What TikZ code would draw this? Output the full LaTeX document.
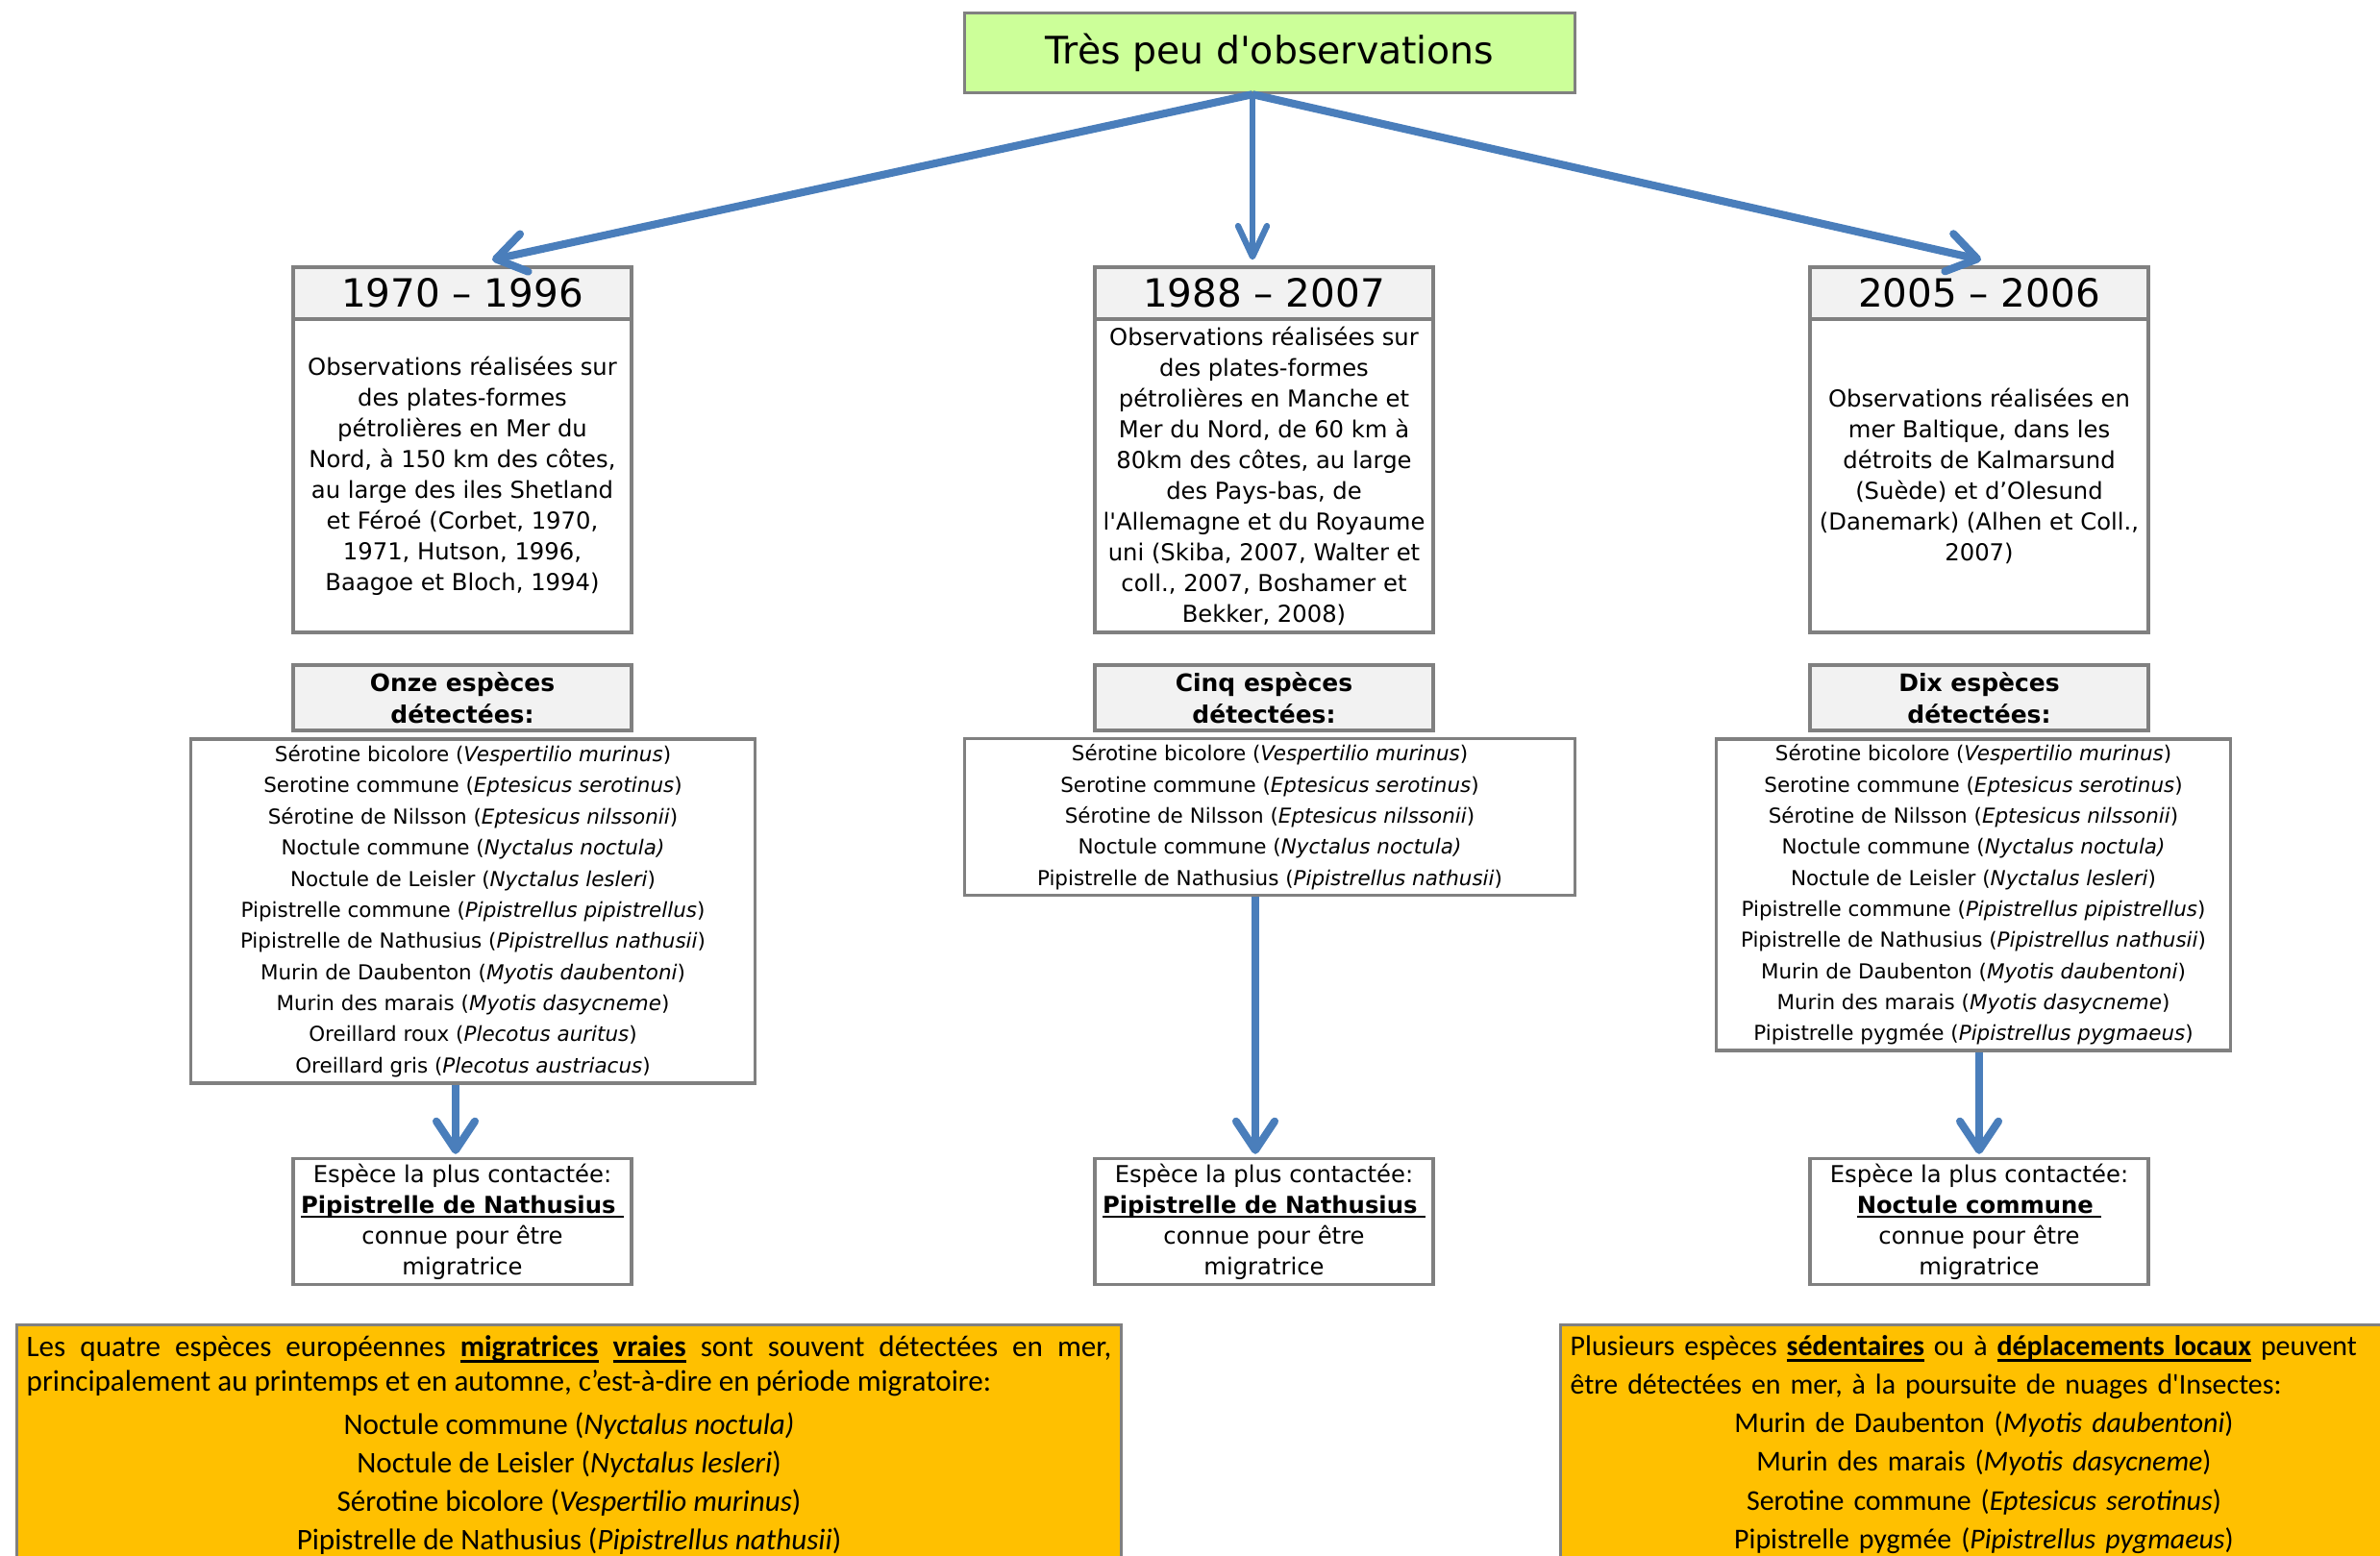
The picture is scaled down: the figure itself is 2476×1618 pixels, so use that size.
\documentclass[tikz,border=0pt]{standalone}
\usepackage{fontspec}
\setmainfont{DejaVu Sans}[Ligatures=TeXOff]
\newfontfamily\calib{Carlito}[Ligatures=TeXOff]
\usetikzlibrary{arrows.meta, positioning, calc}
\definecolor{BoxGray}{RGB}{128,128,128}
\definecolor{HeadGray}{RGB}{242,242,242}
\definecolor{TitleGreen}{RGB}{204,255,153}
\definecolor{ArrowBlue}{RGB}{74,126,187}
\definecolor{NoteOrange}{RGB}{255,192,0}
\newcommand{\thickul}[1]{\leavevmode\setbox0=\hbox{#1}\rlap{\rule[-0.2em]{\wd0}{0.09em}}\box0\relax}

\begin{document}
\begin{tikzpicture}[x=0.01cm,y=-0.01cm,
    box/.style={draw=BoxGray,line width=0.95pt,align=center,inner sep=0pt},
    yearbox/.style={box,fill=HeadGray,minimum width=3.52cm,minimum height=0.54cm,font=\fontsize{11.5}{13}\selectfont},
    descbox/.style={box,fill=white,minimum width=3.52cm,minimum height=3.26cm,font=\fontsize{6.9}{9.1}\selectfont},
    countbox/.style={box,fill=HeadGray,minimum width=3.52cm,minimum height=0.68cm,font=\fontsize{7.1}{9.3}\selectfont\bfseries},
    listbox/.style={box,fill=white,font=\fontsize{6.1}{9.2}\selectfont},
    bestbox/.style={box,fill=white,minimum width=3.52cm,minimum height=1.31cm,font=\fontsize{6.9}{9.1}\selectfont},
    notebox/.style={draw=BoxGray,line width=0.95pt,fill=NoteOrange,anchor=north west,inner xsep=0.1cm,inner ysep=0.11cm},
    flow/.style={draw=ArrowBlue,line width=2.3pt,-{Straight Barb[length=0.3cm,width=0.4cm,round]}}]
    \useasboundingbox (0,0) rectangle (2476,1618);
    \clip (0,0) rectangle (2476,1618);

    % titre
    \node[box,fill=TitleGreen,minimum width=6.35cm,minimum height=0.83cm,font=\fontsize{11.2}{13}\selectfont]
      (title) at (1321,55) {Très peu d'observations};
    \coordinate (hub) at ($(title.south)+(-18,0)$);

    % trois periodes
    \node[yearbox] (yr1) at (481,305) {1970 – 1996};
    \node[descbox] (desc1) at (481,495) {Observations réalisées sur\\des plates-formes\\pétrolières en Mer du\\Nord, à 150 km des côtes,\\au large des iles Shetland\\et Féroé (Corbet, 1970,\\1971, Hutson, 1996,\\Baagoe et Bloch, 1994)};
    \node[yearbox] (yr2) at (1315,305) {1988 – 2007};
    \node[descbox] (desc2) at (1315,495) {Observations réalisées sur\\des plates-formes\\pétrolières en Manche et\\Mer du Nord, de 60 km à\\80km des côtes, au large\\des Pays-bas, de\\l'Allemagne et du Royaume\\uni (Skiba, 2007, Walter et\\coll., 2007, Boshamer et\\Bekker, 2008)};
    \node[yearbox] (yr3) at (2059,305) {2005 – 2006};
    \node[descbox] (desc3) at (2059,495) {Observations réalisées en\\mer Baltique, dans les\\détroits de Kalmarsund\\(Suède) et d’Olesund\\(Danemark) (Alhen et Coll.,\\2007)};

    % especes detectees
    \node[countbox] (cnt1) at (481,726) {Onze espèces\\détectées:};
    \node[countbox] (cnt2) at (1315,726) {Cinq espèces\\détectées:};
    \node[countbox] (cnt3) at (2059,726) {Dix espèces\\détectées:};

    \node[listbox,minimum width=5.87cm,minimum height=3.58cm] (list1) at (492,948) {%
      Sérotine bicolore (\textit{Vespertilio murinus})\\
      Serotine commune (\textit{Eptesicus serotinus})\\
      Sérotine de Nilsson (\textit{Eptesicus nilssonii})\\
      Noctule commune (\textit{Nyctalus noctula)}\\
      Noctule de Leisler (\textit{Nyctalus lesleri})\\
      Pipistrelle commune (\textit{Pipistrellus pipistrellus})\\
      Pipistrelle de Nathusius (\textit{Pipistrellus nathusii})\\
      Murin de Daubenton (\textit{Myotis daubentoni})\\
      Murin des marais (\textit{Myotis dasycneme})\\
      Oreillard roux (\textit{Plecotus auritus})\\
      Oreillard gris (\textit{Plecotus austriacus})};
    \node[listbox,minimum width=6.35cm,minimum height=1.63cm] (list2) at (1321,850) {%
      Sérotine bicolore (\textit{Vespertilio murinus})\\
      Serotine commune (\textit{Eptesicus serotinus})\\
      Sérotine de Nilsson (\textit{Eptesicus nilssonii})\\
      Noctule commune (\textit{Nyctalus noctula)}\\
      Pipistrelle de Nathusius (\textit{Pipistrellus nathusii})};
    \node[listbox,minimum width=5.35cm,minimum height=3.24cm] (list3) at (2053,931) {%
      Sérotine bicolore (\textit{Vespertilio murinus})\\
      Serotine commune (\textit{Eptesicus serotinus})\\
      Sérotine de Nilsson (\textit{Eptesicus nilssonii})\\
      Noctule commune (\textit{Nyctalus noctula)}\\
      Noctule de Leisler (\textit{Nyctalus lesleri})\\
      Pipistrelle commune (\textit{Pipistrellus pipistrellus})\\
      Pipistrelle de Nathusius (\textit{Pipistrellus nathusii})\\
      Murin de Daubenton (\textit{Myotis daubentoni})\\
      Murin des marais (\textit{Myotis dasycneme})\\
      Pipistrelle pygmée (\textit{Pipistrellus pygmaeus})};

    % espece la plus contactee
    \node[bestbox] (best1) at (481,1271) {Espèce la plus contactée:\\\thickul{\textbf{Pipistrelle de Nathusius }}\\connue pour être\\migratrice};
    \node[bestbox] (best2) at (1315,1271) {Espèce la plus contactée:\\\thickul{\textbf{Pipistrelle de Nathusius }}\\connue pour être\\migratrice};
    \node[bestbox] (best3) at (2059,1271) {Espèce la plus contactée:\\\thickul{\textbf{Noctule commune }}\\connue pour être\\migratrice};

    % encadres orange
    \node[notebox,text width=11.28cm,align=justify,font=\calib\fontsize{8.85}{10.2}\selectfont] (note1) at (16,1377) {%
      Les quatre espèces européennes \thickul{\textbf{migratrices}} \thickul{\textbf{vraies}} sont souvent détectées en mer,\linebreak
      principalement au printemps et en automne, c’est-à-dire en période migratoire:\par\vspace{1.4pt}
      {\centering\fontsize{8.85}{11.4}\selectfont
      Noctule commune (\textit{Nyctalus noctula)}\\
      Noctule de Leisler (\textit{Nyctalus lesleri})\\
      Sérotine bicolore (\textit{Vespertilio murinus})\\
      Pipistrelle de Nathusius (\textit{Pipistrellus nathusii})\par}\vspace*{12pt}};
    \node[notebox,text width=8.6cm,align=left,font=\calib\fontsize{8.5}{11.4}\selectfont] (note2) at (1622,1377) {%
      Plusieurs espèces \thickul{\textbf{sédentaires}} ou à \thickul{\textbf{déplacements locaux}} peuvent\\
      être détectées en mer, à la poursuite de nuages d'Insectes:\par
      {\centering
      Murin de Daubenton (\textit{Myotis daubentoni})\\
      Murin des marais (\textit{Myotis dasycneme})\\
      Serotine commune (\textit{Eptesicus serotinus})\\
      Pipistrelle pygmée (\textit{Pipistrellus pygmaeus})\par}\vspace*{12pt}};

    % fleches
    \draw[flow] (hub) -- ($(yr1.north)+(31,-6)$);
    \draw[flow,line width=1.8pt,-{Straight Barb[length=0.32cm,width=0.3cm,round]}] (hub) -- ($(yr2.north -| hub)+(0,-6)$);
    \draw[flow] (hub) -- ($(yr3.north)+(2,-6)$);
    \draw[flow] ($(list1.south -| best1.north)+(-7,0)$) -- ($(best1.north)+(-7,-3)$);
    \draw[flow] ($(list2.south -| best2.north)+(-9,0)$) -- ($(best2.north)+(-9,-3)$);
    \draw[flow] (list3.south -| best3.north) -- ($(best3.north)+(0,-3)$);
  \end{tikzpicture}
\end{document}
